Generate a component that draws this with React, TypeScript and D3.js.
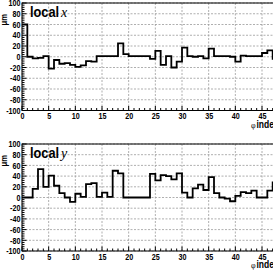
import React from "react";
import * as d3 from "d3";

const bins = d3.range(48);
const localX = [60, 0, -3, -2, 1, -22, -6, -13, -12, -15, -19, -16, -8, -9, 1, 1, 1, 1, 25, 5, 1, 1, 1, 1, -4, 11, -15, 1, -20, -9, 17, 1, 0, 1, -3, 15, 1, 1, 1, 0, -9, 2, 1, 1, 1, 7, 12, -4];
const localY = [0, 0, 16, 53, 20, 41, 22, 8, 0, -8, 7, 1, 25, 27, 1, 9, 1, 50, 45, 0, 0, 0, 0, 0, 44, 32, 42, 40, 34, 45, 9, 0, 17, 24, 14, 38, 8, 0, -2, -7, 3, 10, 8, 13, 0, 0, 13, 28];
const xTicks = [0, 5, 10, 15, 20, 25, 30, 35, 40, 45];
const yTicks = [100, 80, 60, 40, 20, 0, -20, -40, -60, -80, -100];
const panels = [
  { name: "local", sym: "x", values: localX, top: 3, bottom: 110.5 },
  { name: "local", sym: "y", values: localY, top: 144, bottom: 251 },
];

const W = 273;
const FONT = "'Liberation Sans', Arial, sans-serif";

function Panel({ p }: { p: typeof panels[0] }) {
  const x = d3.scaleLinear().domain([0, 48]).range([22, 278]);
  const y = d3.scaleLinear().domain([-100, 100]).range([p.bottom, p.top]);
  const pts: [number, number][] = bins.map((i) => [i, p.values[i]]);
  pts.push([48, p.values[47]]);
  const line = d3
    .line<[number, number]>()
    .x((d) => x(d[0]))
    .y((d) => y(d[1]))
    .curve(d3.curveStepAfter);
  const minorY = d3.range(-100, 101, 4);
  const minorX = d3.range(0, 49, 1);
  const lbl = (tx: number, ty: number, s: string, anchor: string, key: string) => (
    <text
      key={key}
      transform={`translate(${tx},${ty}) scale(0.8,1)`}
      textAnchor={anchor}
      fontSize={9}
      fontWeight="bold"
      fontFamily={FONT}
      fill="#000"
    >
      {s}
    </text>
  );
  return (
    <g>
      {xTicks.map((t) => (
        <line key={"gx" + t} x1={x(t)} x2={x(t)} y1={p.top} y2={p.bottom} stroke="#9a9a9a" strokeDasharray="2 1.5" strokeWidth={0.8} />
      ))}
      {yTicks.map((t) => (
        <line key={"gy" + t} x1={x(0)} x2={W} y1={y(t)} y2={y(t)} stroke="#9a9a9a" strokeDasharray="2 1.5" strokeWidth={0.8} />
      ))}
      <rect x={x(0)} y={p.top} width={x(48) - x(0)} height={p.bottom - p.top} fill="none" stroke="#000" strokeWidth={1} />
      {minorY.map((t) => (
        <line key={"ty" + t} x1={x(0)} x2={x(0) + (t % 20 === 0 ? 4.5 : 2.5)} y1={y(t)} y2={y(t)} stroke="#000" strokeWidth={1} />
      ))}
      {minorX.map((t) => (
        <line key={"tx" + t} x1={x(t)} x2={x(t)} y1={p.bottom} y2={p.bottom - (t % 5 === 0 ? 4.5 : 2.5)} stroke="#000" strokeWidth={1} />
      ))}
      {yTicks.map((t) => lbl(20.5, y(t) + 3.2, String(t), "end", "ly" + t))}
      {xTicks.map((t) => lbl(x(t) + 0.5, p.bottom + 8.5, String(t), "middle", "lx" + t))}
      <text transform={`translate(7,${p.top + 11}) rotate(-90) scale(0.85,1)`} textAnchor="end" fontSize={9} fontWeight="bold" fontFamily={FONT} fill="#000">μm</text>
      <text x={251} y={p.bottom + 17} fontSize={8} fontFamily="'Liberation Serif', serif" fill="#000">φ</text>
      <text transform={`translate(256.5,${p.bottom + 17}) scale(0.85,1)`} fontSize={10} fontWeight="bold" fontFamily={FONT} fill="#000">index</text>
      <text transform={`translate(30,${p.top + 14}) scale(0.85,1)`} fontSize={15} fontWeight="bold" fontFamily={FONT} fill="#000">{p.name}</text>
      <text x={61} y={p.top + 14} fontSize={14} fontStyle="italic" fontFamily="'Liberation Serif', 'Times New Roman', serif" fill="#000">{p.sym}</text>
      <path d={line(pts) || ""} fill="none" stroke="#000" strokeWidth={1.8} />
    </g>
  );
}

export default function App() {
  return (
    <svg width={W} height={W} style={{ position: "absolute", left: 0, top: 0, background: "#fff" }}>
      <rect width={W} height={W} fill="#fff" />
      {panels.map((p, i) => (
        <Panel key={i} p={p} />
      ))}
    </svg>
  );
}
